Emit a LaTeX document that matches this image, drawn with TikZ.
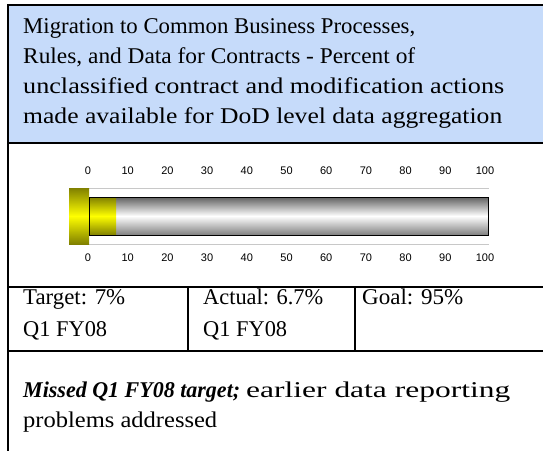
\documentclass[tikz,border=0pt]{standalone}
\usepackage{fontspec}
\usepackage{graphicx}
\setmainfont{Liberation Serif}
\newfontfamily\ticksans{Liberation Sans}
\definecolor{hdrblue}{RGB}{198,219,250}
\definecolor{olivey}{RGB}{128,128,0}
\definecolor{axgray}{RGB}{200,200,200}
\newcommand\fitw[2]{\resizebox{#1}{\height}{#2}}
\begin{document}
\begin{tikzpicture}[x=1pt,y=-1pt,
  txt/.style={anchor=base west,inner sep=0pt,font=\fontsize{22.5}{26}\selectfont},
  tick/.style={anchor=center,inner sep=0pt,font=\ticksans\fontsize{11}{13}\selectfont},
  rule/.style={line width=1.5pt,black},
  ybar/.style={top color=olivey,bottom color=olivey,middle color=yellow,shading angle=0},
  gbar/.style={top color=black!62,bottom color=black!50,middle color=white}]
\useasboundingbox (0,0) rectangle (543,451);
% header fill
\fill[hdrblue] (8,5) rectangle (543,143);
% borders
\draw[rule] (8,5) -- (543,5);
\draw[rule] (8,4.25) -- (8,451);
\draw[rule] (8,143) -- (543,143);
\draw[rule] (8,287) -- (543,287);
\draw[rule] (8,351) -- (543,351);
\draw[rule] (188,287) -- (188,351);
\draw[rule] (355,287) -- (355,351);
% title
\node[txt] (t1) at (23,33) {\fitw{392pt}{Migration to Common Business Processes,}};
\node[txt] (t2) at (23,63) {\fitw{392pt}{Rules, and Data for Contracts - Percent of}};
\node[txt] (t3) at (23,93) {\fitw{481pt}{unclassified contract and modification actions}};
\node[txt] (t4) at (23,123) {\fitw{479pt}{made available for DoD level data aggregation}};
% gauge
\draw[axgray,line width=1pt] (89,188) -- (489,188);
\draw[axgray,line width=1pt] (89,244) -- (489,244);
\shade[ybar] (69,188) rectangle (89,244);
\shade[gbar] (89,197) rectangle (488,235);
\shade[ybar] (89,197) rectangle (116,235);
\draw[black,line width=0.8pt] (89,197) rectangle (488,235);
\foreach \v [count=\i from 0] in {0,10,20,30,40,50,60,70,80,90,100} {
  \node[tick] (top\i) at (88+39.7*\i,171) {\v};
  \node[tick] (bot\i) at (88+39.7*\i,258) {\v};
}
% cells
\node[txt] (c1a) at (23,304) {\fitw{102pt}{Target: 7\%}};
\node[txt] (c1b) at (23,336) {\fitw{84pt}{Q1 FY08}};
\node[txt] (c2a) at (203,304) {\fitw{120pt}{Actual: 6.7\%}};
\node[txt] (c2b) at (203,336) {\fitw{84pt}{Q1 FY08}};
\node[txt] (c3a) at (362,304) {\fitw{101pt}{Goal: 95\%}};
% note
\node[txt] (n1) at (23,397) {\fitw{217pt}{\textbf{\textit{Missed Q1 FY08 target;}}}};
\node[txt] (n1b) at (246,397) {\fitw{264pt}{earlier data reporting}};
\node[txt] (n2) at (23,427) {\fitw{194pt}{problems addressed}};
\end{tikzpicture}
\end{document}
